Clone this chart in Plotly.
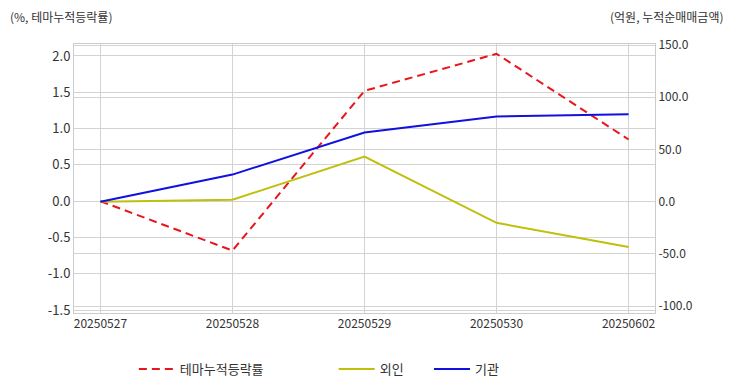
import plotly.graph_objects as go

dates = ["20250527", "20250528", "20250529", "20250530", "20250602"]
theme_rate = [0.0, -0.68, 1.52, 2.03, 0.85]
foreign = [0.0, 1.9, 43.3, -20.2, -43.3]
institution = [0.0, 26.0, 66.3, 81.7, 83.7]

left_ticks = [-1.5, -1.0, -0.5, 0.0, 0.5, 1.0, 1.5, 2.0]
right_ticks = [-100, -50, 0, 50, 100, 150]

FONT = "Noto Sans CJK KR"
xs = list(range(len(dates)))
fig = go.Figure()
fig.add_trace(go.Scatter(x=xs, y=theme_rate, name="테마누적등락률", legend="legend",
                         mode="lines", line=dict(color="#e8161b", width=2, dash="8px,5px"), yaxis="y"))
fig.add_trace(go.Scatter(x=xs, y=foreign, name="외인", legend="legend2",
                         mode="lines", line=dict(color="#bfbf0c", width=2), yaxis="y2"))
fig.add_trace(go.Scatter(x=xs, y=institution, name="기관", legend="legend3",
                         mode="lines", line=dict(color="#1010e0", width=2), yaxis="y2"))

leg = dict(orientation="h", y=-0.208, yanchor="middle", xanchor="left", itemwidth=36,
           font=dict(size=13, color="#333333"), bgcolor="rgba(0,0,0,0)")

fig.update_layout(
    width=716, height=376,
    margin=dict(l=66, r=69, t=36, b=71, autoexpand=False),
    paper_bgcolor="white", plot_bgcolor="white",
    font=dict(family=FONT, size=12, color="#333333"),
    showlegend=True,
    legend=dict(leg, x=0.103),
    legend2=dict(leg, x=0.447),
    legend3=dict(leg, x=0.611),
    xaxis=dict(tickmode="array", tickvals=xs, ticktext=dates,
               range=[-0.2, 4.2], showgrid=True, gridcolor="#d3d3d3", gridwidth=1,
               showline=True, linecolor="#cccccc", mirror=True, zeroline=False,
               tickfont=dict(size=12, color="#333333"), ticks=""),
    yaxis=dict(tickmode="array", tickvals=left_ticks, ticktext=[f"{v:.1f}" for v in left_ticks],
               range=[-1.54, 2.165], showgrid=True, gridcolor="#d3d3d3",
               showline=True, linecolor="#cccccc", zeroline=False,
               tickfont=dict(size=13, color="#333333"), ticks=""),
    yaxis2=dict(tickmode="array", tickvals=right_ticks, ticktext=[f"{v:.1f}" for v in right_ticks],
                range=[-106.5, 151], overlaying="y", side="right", showgrid=True,
                gridcolor="#d3d3d3", showline=True, linecolor="#cccccc", zeroline=False,
                tickfont=dict(size=12, color="#333333"), ticks=""),
    annotations=[
        dict(text="(%, 테마누적등락률)", xref="paper", yref="paper", x=-0.1136, y=1.0,
             xanchor="left", yanchor="middle", yshift=28, showarrow=False,
             font=dict(size=12, color="#333333")),
        dict(text="(억원, 누적순매매금액)", xref="paper", yref="paper", x=1.123, y=1.0,
             xanchor="right", yanchor="middle", yshift=28, showarrow=False,
             font=dict(size=12, color="#333333")),
    ],
)
fig.write_html("out.html")
